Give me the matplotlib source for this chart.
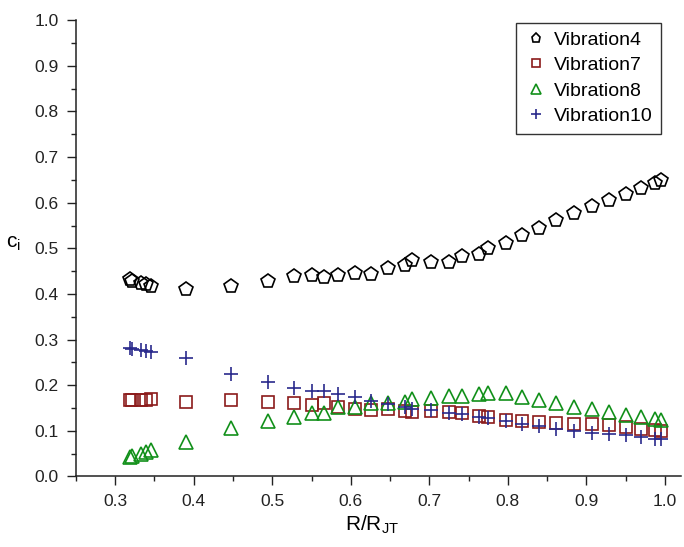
import matplotlib
matplotlib.use("Agg")
import matplotlib.pyplot as plt
from matplotlib.ticker import MultipleLocator

# data
r_ratio = [0.319, 0.322, 0.333, 0.339, 0.345, 0.390, 0.447, 0.494, 0.528, 0.551,
           0.566, 0.584, 0.605, 0.626, 0.648, 0.669, 0.678, 0.702, 0.725, 0.742,
           0.763, 0.775, 0.798, 0.818, 0.840, 0.861, 0.884, 0.907, 0.929, 0.950,
           0.970, 0.988, 0.995]

vib4 = [0.433, 0.428, 0.424, 0.422, 0.417, 0.410, 0.417, 0.428, 0.439, 0.441,
        0.437, 0.441, 0.446, 0.444, 0.457, 0.463, 0.474, 0.470, 0.470, 0.483,
        0.487, 0.500, 0.511, 0.529, 0.544, 0.562, 0.577, 0.592, 0.606, 0.619,
        0.632, 0.643, 0.650]

vib7 = [0.167, 0.167, 0.167, 0.168, 0.169, 0.163, 0.167, 0.163, 0.161, 0.157,
        0.160, 0.153, 0.147, 0.145, 0.147, 0.144, 0.142, 0.143, 0.141, 0.138,
        0.133, 0.130, 0.124, 0.122, 0.119, 0.117, 0.116, 0.114, 0.112, 0.108,
        0.104, 0.101, 0.100]

vib8 = [0.042, 0.045, 0.050, 0.054, 0.058, 0.076, 0.106, 0.121, 0.130, 0.139,
        0.139, 0.152, 0.152, 0.160, 0.160, 0.163, 0.169, 0.172, 0.176, 0.176,
        0.180, 0.182, 0.182, 0.175, 0.168, 0.160, 0.153, 0.147, 0.141, 0.135,
        0.130, 0.126, 0.123]

vib10 = [0.281, 0.279, 0.277, 0.275, 0.273, 0.259, 0.224, 0.207, 0.194, 0.187,
         0.187, 0.180, 0.174, 0.165, 0.158, 0.152, 0.147, 0.145, 0.139, 0.137,
         0.131, 0.128, 0.121, 0.115, 0.110, 0.104, 0.099, 0.095, 0.093, 0.090,
         0.086, 0.082, 0.082]

plt.rcParams['font.family'] = ['Liberation Sans', 'DejaVu Sans']
plt.rcParams['mathtext.fontset'] = 'custom'
plt.rcParams['mathtext.rm'] = 'Liberation Sans'

fig = plt.figure(figsize=(6.84, 5.47), dpi=100)
ax = fig.add_axes([0.111, 0.129, 0.884, 0.834])

ax.plot(r_ratio, vib4, linestyle='none', marker='p', ms=10, mfc='none',
        mec='black', mew=1.2, label='Vibration4')
ax.plot(r_ratio, vib7, linestyle='none', marker='s', ms=8, mfc='none',
        mec='#8b1a1a', mew=1.2, label='Vibration7')
ax.plot(r_ratio, vib8, linestyle='none', marker='^', ms=10, mfc='none',
        mec='#12901a', mew=1.2, label='Vibration8')
ax.plot(r_ratio, vib10, linestyle='none', marker='+', ms=10, mec='#2a2a8c',
        mew=1.2, label='Vibration10')

ax.set_xlim(0.25, 1.02)
ax.set_ylim(0.0, 1.0)
ax.xaxis.set_minor_locator(MultipleLocator(0.05))
ax.yaxis.set_major_locator(MultipleLocator(0.1))
ax.yaxis.set_minor_locator(MultipleLocator(0.05))
ax.set_xticks([0.3, 0.4, 0.5, 0.6, 0.7, 0.8, 0.9, 1.0])
ax.tick_params(which='major', direction='out', length=6.5, width=1, labelsize=12.5,
               pad=6, colors='#222222')
ax.tick_params(which='minor', direction='out', length=3.5, width=1, colors='#222222')

ax.spines['top'].set_visible(False)
ax.spines['right'].set_visible(False)
for s in ['left', 'bottom']:
    ax.spines[s].set_linewidth(1.1)
    ax.spines[s].set_color('#222222')

ax.set_xlabel('R/R$_\\mathregular{JT}$', fontsize=15)
ax.xaxis.set_label_coords(0.49, -0.08)
ax.set_ylabel('c$_\\mathregular{i}$', fontsize=15, rotation=0)
ax.yaxis.set_label_coords(-0.103, 0.49)

leg = ax.legend(loc='upper right', bbox_to_anchor=(0.968, 0.995), fontsize=14,
                frameon=True, fancybox=False, edgecolor='black', markerscale=0.65,
                handletextpad=0.3, borderpad=0.45, labelspacing=0.4,
                handlelength=1.2, borderaxespad=0)
leg.get_frame().set_linewidth(1.0)

fig.savefig('out.png', dpi=100)
